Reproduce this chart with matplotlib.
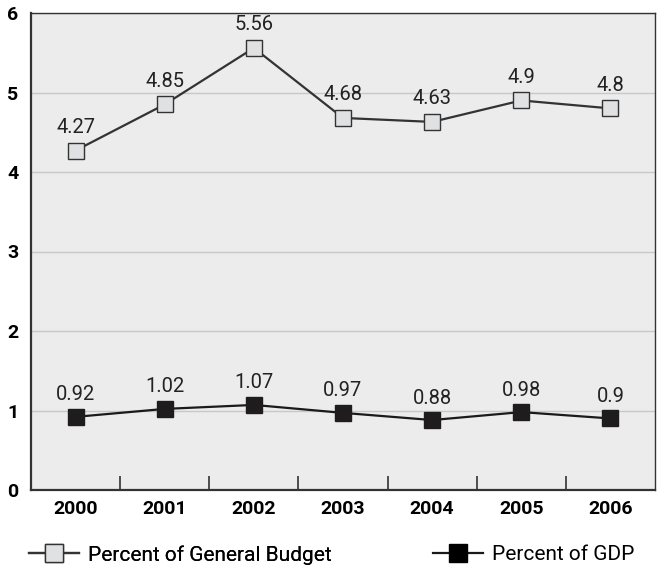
import matplotlib.pyplot as plt
from matplotlib.lines import Line2D

years = ['2000', '2001', '2002', '2003', '2004', '2005', '2006']
budget = [4.27, 4.85, 5.56, 4.68, 4.63, 4.9, 4.8]
gdp = [0.92, 1.02, 1.07, 0.97, 0.88, 0.98, 0.9]
budget_labels = ['4.27', '4.85', '5.56', '4.68', '4.63', '4.9', '4.8']
gdp_labels = ['0.92', '1.02', '1.07', '0.97', '0.88', '0.98', '0.9']

plt.rcParams['font.family'] = ['Roboto', 'DejaVu Sans']

fig = plt.figure(figsize=(6.57, 5.71), dpi=100)
ax = fig.add_axes([31/657, 81/571, 624/657, 477/571])
ax.set_facecolor('#ececec')

x = list(range(len(years)))
line_col = '#333333'

ax.plot(x, budget, color=line_col, lw=1.6, marker='s', ms=12,
        mfc='#e0e1e3', mec='#333333', mew=1.0, zorder=3)
ax.plot(x, gdp, color='#1a1a1a', lw=1.6, marker='s', ms=12,
        mfc='#1e1c1d', mec='#1e1c1d', mew=1.0, zorder=3)

for xi, v, t in zip(x, budget, budget_labels):
    ax.annotate(t, (xi, v), xytext=(0, 10), textcoords='offset points',
                ha='center', va='bottom', fontsize=14.5, color='#222222')
for xi, v, t in zip(x, gdp, gdp_labels):
    ax.annotate(t, (xi, v), xytext=(0, 9), textcoords='offset points',
                ha='center', va='bottom', fontsize=14.5, color='#222222')

ax.set_xlim(-0.5, len(years) - 0.5)
ax.set_ylim(0, 6)
ax.set_yticks([0, 1, 2, 3, 4, 5, 6])
ax.set_yticklabels(['0', '1', '2', '3', '4', '5', '6'], fontsize=14, fontweight='bold')
ax.set_xticks(x)
ax.set_xticklabels(years, fontsize=14, fontweight='bold')
ax.tick_params(axis='x', which='major', length=0, pad=7)
ax.tick_params(axis='y', which='major', length=0, pad=9)
ax.set_xticks([i + 0.5 for i in range(len(years) - 1)], minor=True)
ax.tick_params(axis='x', which='minor', direction='in', length=10, width=1.2, color='#333333')

ax.grid(axis='y', color='#c8c8c8', lw=1)
ax.set_axisbelow(True)
for s in ['left', 'bottom']:
    ax.spines[s].set_linewidth(1.6)
    ax.spines[s].set_color('#333333')
for s in ['top', 'right']:
    ax.spines[s].set_linewidth(1.0)
    ax.spines[s].set_color('#333333')

h1 = Line2D([], [], color=line_col, lw=1.6, marker='s', ms=13,
            mfc='#e0e1e3', mec='#333333', mew=1.0)
h2 = Line2D([], [], color='#1a1a1a', lw=1.6, marker='s', ms=13,
            mfc='#000000', mec='#000000', mew=1.0)
leg_kw = dict(loc='center left', frameon=False, fontsize=15, handlelength=2.4,
              handletextpad=0.45, borderpad=0, borderaxespad=0)
leg1 = fig.legend([h1], ['Percent of General Budget'],
                  bbox_to_anchor=(29/657, 16/571), **leg_kw)
fig.add_artist(leg1)
fig.legend([h2], ['Percent of GDP'],
           bbox_to_anchor=(433/657, 16/571), **leg_kw)

fig.savefig('out.png', dpi=100)
